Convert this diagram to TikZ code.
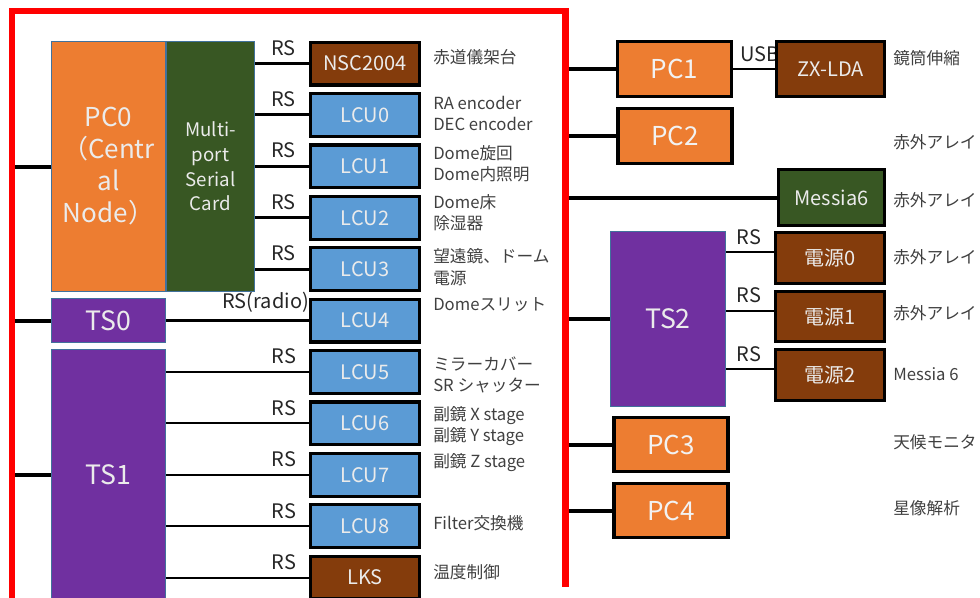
\documentclass[tikz,border=0pt]{standalone}
\usepackage{fontspec}
\setmainfont{Noto Sans CJK JP}
\usepackage{xcolor}
\usetikzlibrary{backgrounds}
\definecolor{morange}{RGB}{237,125,49}
\definecolor{mblue}{RGB}{91,155,213}
\definecolor{mbrown}{RGB}{132,60,12}
\definecolor{mgreen}{RGB}{56,87,35}
\definecolor{mpurple}{RGB}{112,48,160}
\definecolor{medge}{RGB}{65,113,156}
\definecolor{mtext}{RGB}{64,64,64}

\begin{document}
\begin{tikzpicture}[x=0.75pt, y=-0.75pt,
  bus/.style={draw=red, line width=5.2pt},
  link/.style={draw=black, line width=3pt},
  rsline/.style={draw=black, line width=2.2pt},
  thinline/.style={draw=black, line width=1.5pt},
  host/.style={draw=medge, line width=0.75pt, text=white!92!black, align=center,
    inner sep=0pt, minimum width=85.5pt},
  dev/.style={draw=black, line width=2.4pt, text=white!92!black, inner sep=0pt,
    font=\fontsize{15}{18}\selectfont, minimum width=81.6pt, minimum height=32.1pt},
  pcbox/.style={draw=black, line width=2.4pt, fill=morange, text=white!95!black, inner sep=0pt,
    font=\fontsize{19.5}{24}\selectfont, minimum width=85.5pt, minimum height=41pt},
  desc/.style={anchor=west, align=left, text=mtext, inner sep=0pt,
    font=\fontsize{12.5}{16}\selectfont},
  rslab/.style={anchor=south east, inner sep=0pt, xshift=-9pt, yshift=5pt,
    text=black!85, font=\fontsize{15}{17}\selectfont}]

  \useasboundingbox (0,0) rectangle (980,597);

  % ── LAN bus (red bracket) ──
  \coordinate (bl) at (12,11);
  \coordinate (br) at (565.5,11);
  \draw[bus] (12,600) -- (bl) -- (br) -- (565.5,587);

  % ── PC0 + serial card ──
  \node[host, fill=morange, minimum height=187.5pt, font=\fontsize{19.5}{24}\selectfont]
    (pc0) at (108.5,166.5) {PC0\\（Centr\\al\\Node）};
  \node[host, fill=mgreen, minimum width=66pt, minimum height=187.5pt,
    font=\fontsize{14}{18.5}\selectfont] (card) at (210.5,166.5) {Multi-\\port\\Serial\\Card};

  % ── terminal servers ──
  \node[host, fill=mpurple, minimum height=33pt, font=\fontsize{20}{24}\selectfont]
    (ts0) at (108.5,320.5) {TS0};
  \node[host, fill=mpurple, minimum height=188pt, font=\fontsize{20}{24}\selectfont]
    (ts1) at (108.5,475) {TS1};
  \node[host, fill=mpurple, minimum width=86.25pt, minimum height=131.25pt,
    font=\fontsize{20}{24}\selectfont] (ts2) at (668,319) {TS2};

  % ── controllers ──
  \node[dev, fill=mbrown] (nsc) at (365,63.5) {NSC2004};
  \foreach \i/\y in {0/114.9, 1/166.3, 2/217.7, 3/269.1, 4/320.5,
                     5/371.9, 6/423.3, 7/474.7, 8/526.1}
    \node[dev, fill=mblue] (lcu\i) at (365,\y) {LCU\i};
  \node[dev, fill=mbrown] (lks) at (365,577.5) {LKS};

  % ── right side PCs and devices ──
  \node[pcbox] (pc1) at (674.5,69) {PC1};
  \node[pcbox] (pc2) at (675,136) {PC2};
  \node[pcbox] (pc3) at (671,444.5) {PC3};
  \node[pcbox] (pc4) at (671,510.5) {PC4};
  \node[dev, fill=mbrown, minimum width=80.8pt, minimum height=41pt] (zx) at (830.5,69) {ZX-LDA};
  \node[dev, fill=mgreen, minimum width=79.4pt, minimum height=41.8pt] (messia) at (831.5,197.5) {Messia6};
  \node[dev, fill=mbrown, minimum height=38pt] (psu0) at (830,258) {電源0};
  \node[dev, fill=mbrown, minimum height=38pt] (psu1) at (830,316.5) {電源1};
  \node[dev, fill=mbrown, minimum height=38pt] (psu2) at (830,375) {電源2};

  % ── connectors (behind the boxes) ──
  \begin{pgfonlayer}{background}
    \foreach \n in {pc0, ts0, ts1}
      \draw[link] (\n.west -| bl) -- (\n.west);
    \foreach \n in {pc1, pc2, messia, ts2, pc3, pc4}
      \draw[link] (\n.west -| br) -- (\n.west);
    \foreach \n in {nsc, lcu0, lcu1, lcu2, lcu3}
      \draw[rsline] (\n.west -| card.east) -- node[rslab, pos=1] {RS} (\n.west);
    \draw[rsline] (ts0.east) -- node[rslab, pos=1, xshift=10pt] {RS(radio)} (lcu4.west);
    \foreach \n in {lcu5, lcu6, lcu7, lcu8, lks}
      \draw[thinline] (\n.west -| ts1.east) -- node[rslab, pos=1] {RS} (\n.west);
    \foreach \n in {psu0, psu1, psu2}
      \draw[thinline] (\n.174 -| ts2.east) -- node[rslab, pos=1] {RS} (\n.174);
    \draw[thinline] (pc1.east) -- node[rslab, pos=0, anchor=south west, xshift=13.5pt] {USB} (zx.west);
  \end{pgfonlayer}

  % ── descriptions ──
  \node[desc] (d-nsc)  at (433,57)    {赤道儀架台};
  \node[desc] (d-lcu0) at (433,113.5) {RA encoder\\DEC encoder};
  \node[desc] (d-lcu1) at (433,163.5) {Dome旋回\\Dome内照明};
  \node[desc] (d-lcu2) at (433,212.5) {Dome床\\除湿器};
  \node[desc] (d-lcu3) at (433,267)   {望遠鏡、ドーム\\電源};
  \node[desc] (d-lcu4) at (433,305)   {Domeスリット};
  \node[desc] (d-lcu5) at (433,375)   {ミラーカバー\\SR シャッター};
  \node[desc] (d-lcu6) at (433,426)   {副鏡 X stage\\副鏡 Y stage};
  \node[desc] (d-lcu7) at (433,463)   {副鏡 Z stage};
  \node[desc] (d-lcu8) at (433,523)   {Filter交換機};
  \node[desc] (d-lks)  at (433,572)   {温度制御};

  \node[desc] (d-zx)     at (893,58)  {鏡筒伸縮};
  \node[desc] (d-pc2)    at (893,142) {赤外アレイ};
  \node[desc] (d-messia) at (893,200) {赤外アレイ};
  \node[desc] (d-psu0)   at (893,257) {赤外アレイ};
  \node[desc] (d-psu1)   at (893,313) {赤外アレイ};
  \node[desc] (d-psu2)   at (893,374) {Messia 6};
  \node[desc] (d-pc3)    at (893,442) {天候モニタ};
  \node[desc] (d-pc4)    at (893,508) {星像解析};

\end{tikzpicture}
\end{document}
